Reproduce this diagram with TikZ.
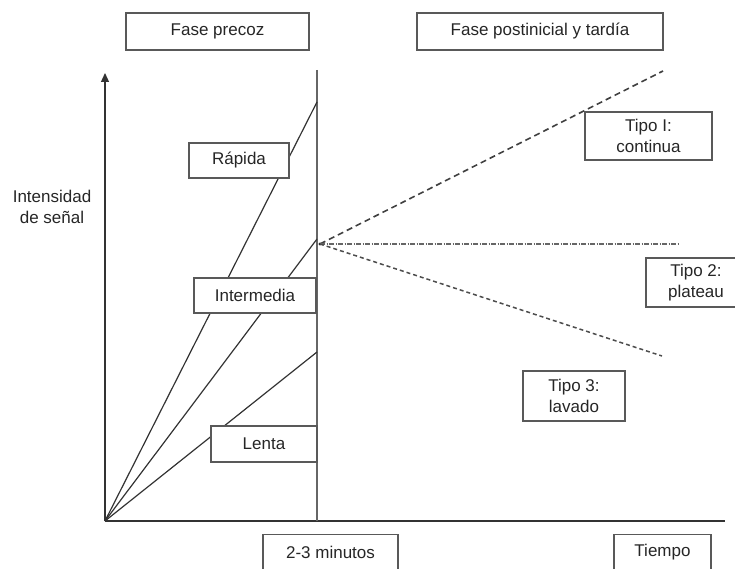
\documentclass[tikz,border=0pt]{standalone}
\usepackage{fontspec}
\setmainfont{Liberation Sans}
\usetikzlibrary{arrows.meta}

\begin{document}
\begin{tikzpicture}[x=1pt, y=-1pt,
    linie/.style={draw=black!80, line width=1.2pt},
    kasten/.style={draw=black!65, line width=1.5pt, fill=white, inner sep=0pt,
      align=center, text=black!85, font=\fontsize{17}{21}\selectfont}]
  \useasboundingbox (0,0) rectangle (735,569);
  % Punkte
  \coordinate (O) at (105,521);
  \coordinate (ytop) at (105,73);
  \coordinate (xend) at (725,521);
  \coordinate (vtop) at (317,70);
  \coordinate (vbot) at (317,521);
  \coordinate (R) at (317,102);
  \coordinate (M) at (317,239);
  \coordinate (L) at (317,352);
  \coordinate (P) at (320,244);
  \coordinate (T1) at (663,71);
  \coordinate (T2) at (678,244);
  \coordinate (T3) at (662,356);
  % Achsen
  \draw[linie, -{Triangle[length=9pt, width=8pt]}] (O) -- (ytop);
  \draw[linie] (O) -- (xend);
  \draw[linie, draw=black!60, line width=1.4pt] (vtop) -- (vbot);
  % Anstieg
  \draw[linie] (O) -- (R);
  \draw[linie] (O) -- (M);
  \draw[linie] (O) -- (L);
  % Kurventypen
  \fill[black!85] (P) circle (1.7);
  \draw[black!75, line width=1.6pt, dash pattern=on 6pt off 4pt] (P) -- (T1);
  \draw[black!60, line width=1.2pt, dash pattern=on 5pt off 1.5pt on 1pt off 1.5pt] (P) -- (T2);
  \draw[black!70, line width=1.5pt, dash pattern=on 4pt off 3pt] (P) -- (T3);
  % Kaesten
  \node[kasten, minimum width=183, minimum height=37] (precoz) at (217.5,31.5) {Fase precoz};
  \node[kasten, minimum width=246, minimum height=37] (tardia) at (540,31.5) {Fase postinicial y tardía};
  \node[kasten, minimum width=100, minimum height=35] (rapida) at (239,160.5) {Rápida};
  \node[kasten, minimum width=122, minimum height=35] (inter) at (255,295.5) {Intermedia};
  \node[kasten, minimum width=106, minimum height=36] (lenta) at (264,444) {Lenta};
  \node[kasten, minimum width=127, minimum height=48] (tipo1) at (648.5,136) {Tipo I:\\continua};
  \node[kasten, minimum width=100, minimum height=49] (tipo2) at (696,282.5) {Tipo 2:\\plateau};
  \node[kasten, minimum width=102, minimum height=50] (tipo3) at (574,396) {Tipo 3:\\lavado};
  \node[kasten, minimum width=135, minimum height=36] (minutos) at (330.5,552.5) {2-3 minutos};
  \node[kasten, minimum width=97, minimum height=36] (tiempo) at (662.5,552.5) {Tiempo};
  \node[align=center, text=black!85, font=\fontsize{17}{21}\selectfont] (senal) at (52,207) {Intensidad\\de señal};
\end{tikzpicture}
\end{document}
